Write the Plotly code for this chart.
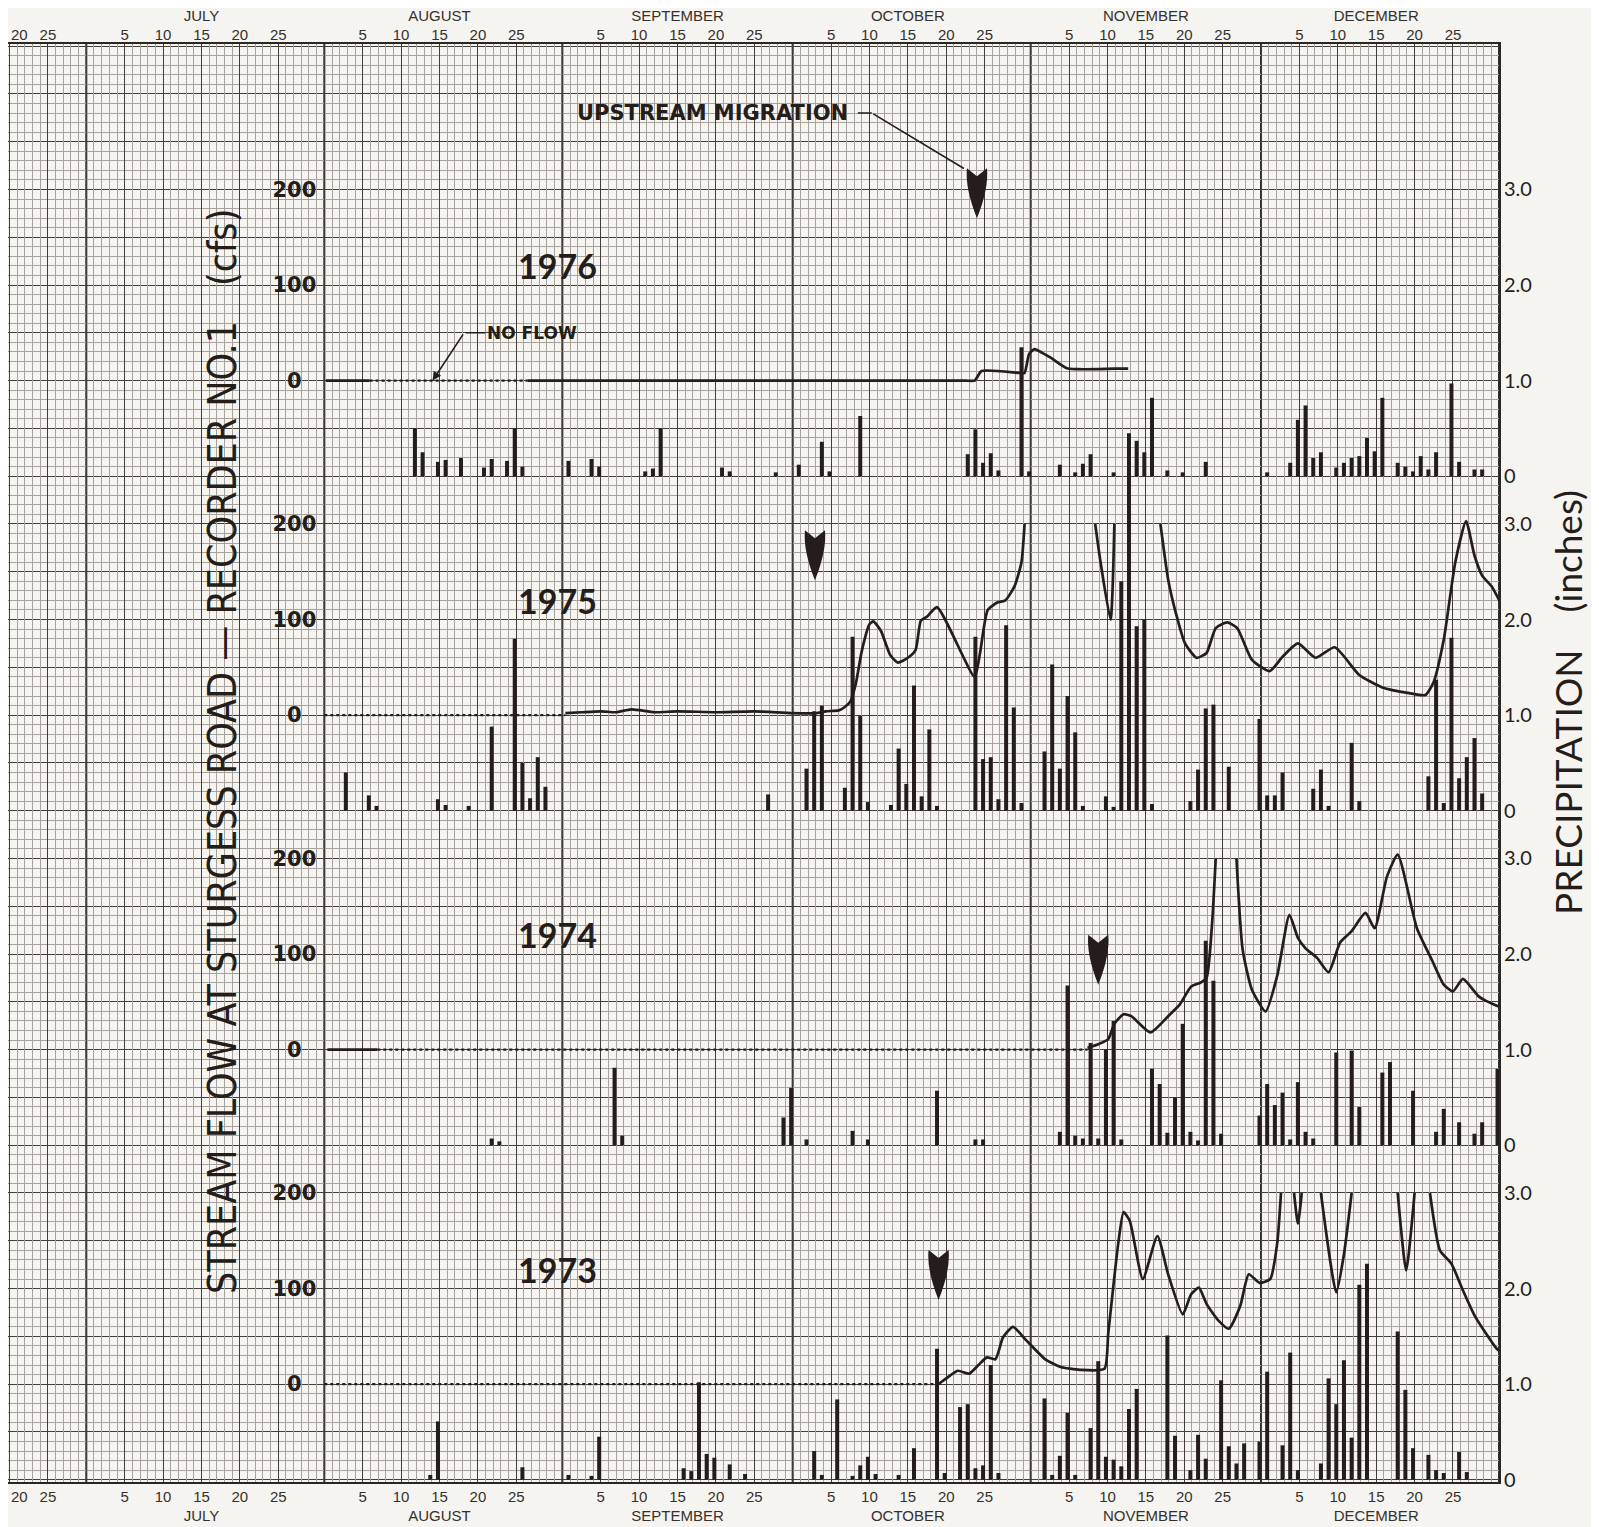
import plotly.graph_objects as go
from datetime import datetime, timedelta

YEAR = 2001  # nominal non-leap year: every season is laid on one Jun-Dec axis

# ------------------------------------------------------------------ data
years = ["1976", "1975", "1974", "1973"]

# daily precipitation (inches)
p1976_dates = ["08-12", "08-13", "08-15", "08-16", "08-18", "08-21", "08-22", "08-24", "08-25", "08-26",
               "09-01", "09-04", "09-05", "09-11", "09-12", "09-13", "09-21", "09-22", "09-28",
               "10-01", "10-04", "10-05", "10-09", "10-23", "10-24", "10-25", "10-26", "10-27", "10-30", "10-31",
               "11-04", "11-06", "11-07", "11-08", "11-11", "11-13", "11-14", "11-15", "11-16", "11-18", "11-20", "11-23",
               "12-01", "12-04", "12-05", "12-06", "12-07", "12-08", "12-10", "12-11", "12-12", "12-13", "12-14", "12-15",
               "12-16", "12-18", "12-19", "12-20", "12-21", "12-22", "12-23", "12-25", "12-26", "12-28", "12-29"]
p1976_in = [0.50, 0.25, 0.15, 0.17, 0.19, 0.09, 0.18, 0.16, 0.50, 0.10,
            0.16, 0.18, 0.10, 0.05, 0.08, 0.50, 0.09, 0.05, 0.04,
            0.12, 0.36, 0.05, 0.63, 0.23, 0.49, 0.14, 0.24, 0.06, 1.35, 0.05,
            0.12, 0.04, 0.13, 0.23, 0.04, 0.06, 0.37, 0.25, 0.82, 0.06, 0.04, 0.15,
            0.04, 0.14, 0.59, 0.74, 0.19, 0.25, 0.09, 0.14, 0.19, 0.21, 0.40, 0.26,
            0.82, 0.14, 0.10, 0.05, 0.21, 0.07, 0.25, 0.97, 0.15, 0.07, 0.07]

p1975_dates = ["08-03", "08-06", "08-07", "08-15", "08-16", "08-19", "08-22", "08-25", "08-26", "08-27", "08-28", "08-29",
               "09-27",
               "10-02", "10-03", "10-04", "10-07", "10-08", "10-09", "10-10", "10-13", "10-14", "10-15", "10-16",
               "10-17", "10-18", "10-19", "10-24", "10-25", "10-26", "10-27", "10-28", "10-29", "10-30",
               "11-02", "11-03", "11-04", "11-05", "11-06", "11-07", "11-10", "11-11", "11-12", "11-13",
               "11-14", "11-15", "11-16", "11-21", "11-22", "11-23", "11-24", "11-26", "11-30",
               "12-01", "12-02", "12-03", "12-07", "12-08", "12-09", "12-12", "12-13", "12-22", "12-23",
               "12-24", "12-25", "12-26", "12-27", "12-28", "12-29"]
p1975_in = [0.40, 0.16, 0.05, 0.12, 0.06, 0.05, 0.88, 1.80, 0.50, 0.13, 0.56, 0.25,
            0.17,
            0.44, 1.04, 1.10, 0.24, 1.82, 0.99, 0.09, 0.06, 0.65, 0.28, 1.31,
            0.15, 0.85, 0.05, 1.82, 0.54, 0.56, 0.12, 1.94, 1.08, 0.08,
            0.62, 1.53, 0.44, 1.20, 0.82, 0.05, 0.15, 0.04, 2.40, 3.95,
            1.93, 2.00, 0.07, 0.10, 0.43, 1.07, 1.11, 0.46, 0.96,
            0.16, 0.16, 0.40, 0.23, 0.43, 0.05, 0.71, 0.10, 0.36, 1.37,
            0.08, 1.81, 0.34, 0.56, 0.76, 0.18]

p1974_dates = ["08-22", "08-23",
               "09-07", "09-08", "09-29", "09-30",
               "10-02", "10-08", "10-10", "10-19", "10-24", "10-25",
               "11-04", "11-05", "11-06", "11-07", "11-08", "11-09", "11-10", "11-11", "11-12", "11-16",
               "11-17", "11-18", "11-19", "11-20", "11-21", "11-22", "11-23", "11-24", "11-25", "11-30",
               "12-01", "12-02", "12-03", "12-04", "12-05", "12-06", "12-07", "12-10", "12-12", "12-13",
               "12-16", "12-17", "12-20", "12-23", "12-24", "12-26", "12-28", "12-29", "12-31"]
p1974_in = [0.07, 0.04,
            0.81, 0.10, 0.29, 0.60,
            0.06, 0.15, 0.06, 0.57, 0.06, 0.06,
            0.14, 1.67, 0.10, 0.07, 1.07, 0.07, 1.00, 1.30, 0.06, 0.80,
            0.64, 0.13, 0.50, 1.27, 0.14, 0.05, 2.14, 1.72, 0.12, 0.31,
            0.64, 0.42, 0.55, 0.06, 0.66, 0.14, 0.07, 0.97, 0.99, 0.40,
            0.76, 0.87, 0.57, 0.14, 0.38, 0.24, 0.12, 0.24, 0.80]

p1973_dates = ["08-14", "08-15", "08-26",
               "09-01", "09-04", "09-05", "09-16", "09-17", "09-18", "09-19", "09-20", "09-22", "09-24",
               "10-03", "10-04", "10-06", "10-08", "10-09", "10-10", "10-11", "10-14", "10-16",
               "10-19", "10-20", "10-22", "10-23", "10-24", "10-25", "10-26", "10-27",
               "11-02", "11-03", "11-04", "11-05", "11-06", "11-08", "11-09", "11-10", "11-11", "11-12", "11-13",
               "11-14", "11-18", "11-19", "11-21", "11-22", "11-23", "11-25", "11-26", "11-27", "11-28", "11-30",
               "12-01", "12-03", "12-04", "12-05", "12-08", "12-09", "12-10", "12-11", "12-12", "12-13",
               "12-14", "12-18", "12-19", "12-20", "12-22", "12-23", "12-24", "12-26", "12-27"]
p1973_in = [0.05, 0.61, 0.13,
            0.05, 0.04, 0.45, 0.12, 0.09, 1.02, 0.27, 0.23, 0.16, 0.06,
            0.30, 0.05, 0.84, 0.04, 0.15, 0.24, 0.06, 0.05, 0.33,
            1.37, 0.07, 0.76, 0.79, 0.12, 0.15, 1.20, 0.07,
            0.85, 0.05, 0.25, 0.70, 0.05, 0.54, 1.24, 0.24, 0.21, 0.14, 0.74,
            0.95, 1.51, 0.46, 0.10, 0.47, 0.22, 1.04, 0.35, 0.17, 0.38, 0.40,
            1.13, 0.36, 1.33, 0.10, 0.17, 1.06, 0.79, 1.25, 0.44, 2.04,
            2.26, 1.55, 0.94, 0.33, 0.26, 0.10, 0.07, 0.29, 0.08]

# stream flow (cfs); "MM-DD.f" = day plus fraction of day, None = off scale / no record
f1976_dates = ["07-31.2", "08-05.9", None,
               "08-26.5", "09-15.0", "10-10.0", "10-22.5", "10-23.7", "10-24.6", "10-29.6", "10-30.2",
               "10-30.8", "10-31.5", "11-01.5", "11-02.6", "11-04.7", "11-06.0", "11-08.8", "11-10.9", "11-12.7"]
f1976_cfs = [0, 0, None,
             0, 0, 0, 0, 0, 10, 8, 8,
             28, 33, 29, 24, 13, 12, 12, 12.5, 12.5]

f1975_dates = ["08-31.4", "09-02.5", "09-05.0", "09-07.0", "09-09.0", "09-12.0", "09-15.0", "09-20.0",
               "09-25.0", "09-30.0", "10-03.0", "10-04.3", "10-06.0", "10-06.7", "10-07.5", "10-08.2",
               "10-09.0", "10-10.0", "10-10.5", "10-11.5", "10-12.7", "10-13.7", "10-15.0", "10-16.0",
               "10-16.7", "10-17.5", "10-18.8", "10-23.7", "10-24.4", "10-25.4", "10-26.7", "10-27.7",
               "10-28.9", "10-29.8", "10-30.2", None,
               "11-08.4", "11-09.1", "11-10.4", "11-10.9", None,
               "11-16.9", "11-17.9", "11-18.9", "11-20.1", "11-21.6", "11-22.9", "11-24.1", "11-25.6",
               "11-26.9", "11-28.8", "12-01.1", "12-02.8", "12-04.8", "12-07.1", "12-09.6", "12-12.8",
               "12-15.8", "12-19.3", "12-21.4", "12-22.5", "12-23.8", "12-25.3", "12-26.7", "12-27.8",
               "12-28.8", "12-30.0", "12-31.1"]
f1975_cfs = [2, 3, 4, 3, 6, 3, 4, 3,
             4, 2, 2, 4, 5, 8, 14, 32,
             67, 95, 98, 88, 63, 55, 60, 68,
             99, 103, 113, 40, 65, 110, 118, 120,
             135, 160, 200, None,
             200, 160, 100, 200, None,
             200, 142, 107, 75, 60, 65, 91, 97,
             91, 58, 46, 61, 75, 60, 71, 42,
             29, 23, 21, 35, 79, 160, 203, 167,
             146, 135, 119]

f1974_dates = ["07-31.4", "08-06.9", None,
               "11-07.4", "11-08.9", "11-10.1", "11-10.9", "11-12.1", "11-13.1", "11-15.6", "11-17.9",
               "11-19.4", "11-20.9", "11-22.1", "11-22.9", "11-23.6", "11-24.1", None,
               "11-26.8", "11-27.6", "11-28.8", "11-30.6", "12-02.1", "12-03.7", "12-04.8", "12-05.8",
               "12-07.3", "12-08.8", "12-10.3", "12-11.8", "12-13.6", "12-14.8", "12-16.4", "12-17.8",
               "12-20.3", "12-22.3", "12-23.8", "12-25.0", "12-26.3", "12-28.3", "12-29.3", "12-30.7",
               "12-31.0"]
f1974_cfs = [0, 0, None,
             2, 6, 11, 27, 37, 35, 18, 35,
             47, 66, 70, 75, 129, 200, None,
             200, 105, 63, 40, 77, 141, 117, 106,
             96, 81, 112, 124, 143, 127, 181, 204,
             127, 93, 68, 61, 74, 56, 51, 46,
             45]

f1973_dates = ["10-19.0", "10-20.0", "10-21.5", "10-23.0", "10-24.2", "10-25.3", "10-26.4", "10-27.4",
               "10-28.7", "10-30.4", "11-01.9", "11-03.9", "11-06.4", "11-09.6", "11-10.1", "11-11.4",
               "11-12.1", "11-12.9", "11-14.6", "11-16.5", "11-17.9", "11-19.8", "11-20.9", "11-21.9",
               "11-22.9", "11-24.4", "11-25.8", "11-27.3", "11-28.4", "11-29.8", "12-01.2", "12-02.1",
               "12-02.6", None,
               "12-04.3", "12-04.8", "12-05.3", None,
               "12-07.8", "12-09.8", "12-10.8", "12-11.8", None,
               "12-17.8", "12-18.9", "12-20.0", None,
               "12-22.0", "12-23.3", "12-24.8", "12-26.3", "12-27.8", "12-29.3", "12-30.7", "12-31.0"]
f1973_cfs = [0, 6, 14, 11, 20, 28, 26, 49,
             60, 46, 26, 18, 15, 16, 53, 147,
             180, 171, 110, 155, 115, 73, 94, 101,
             84, 67, 58, 82, 115, 106, 110, 147,
             200, None,
             200, 168, 200, None,
             200, 96, 136, 200, None,
             200, 119, 200, None,
             200, 140, 126, 98, 72, 53, 37, 35]

# periods marked "no flow" (dotted at 0 cfs)
noflow_1976 = [("08-05.9", "08-26.5")]
noflow_1975 = [("07-31.0", "08-31.4")]
noflow_1974 = [("08-06.9", "11-07.4")]
noflow_1973 = [("07-31.0", "10-19.0")]

# first upstream migration observed (date), one per season
migration_dates = ["10-24.0", "10-02.9", "11-08.8", "10-19.0"]

# axis labels
month_nums = [7, 8, 9, 10, 11, 12]
month_names = ["JULY", "AUGUST", "SEPTEMBER", "OCTOBER", "NOVEMBER", "DECEMBER"]
month_end_lines = ["06-30", "07-31", "08-31", "09-30", "10-31", "11-30", "12-31"]
label_days = [5, 10, 15, 20, 25]
june_days = [20, 25]
precip_ticks = [0, 1, 2, 3]
precip_labels = ["0", "1.0", "2.0", "3.0"]
flow_ticks = [0, 100, 200]
flow_labels = ["<b>0\u2007</b>", "<b>100</b>", "<b>200</b>"]

precip_dates = {"1976": p1976_dates, "1975": p1975_dates, "1974": p1974_dates, "1973": p1973_dates}
precip_in = {"1976": p1976_in, "1975": p1975_in, "1974": p1974_in, "1973": p1973_in}
flow_dates = {"1976": f1976_dates, "1975": f1975_dates, "1974": f1974_dates, "1973": f1973_dates}
flow_cfs = {"1976": f1976_cfs, "1975": f1975_cfs, "1974": f1974_cfs, "1973": f1973_cfs}
noflow = {"1976": noflow_1976, "1975": noflow_1975, "1974": noflow_1974, "1973": noflow_1973}
for y in years:
    assert len(precip_dates[y]) == len(precip_in[y]), y
    assert len(flow_dates[y]) == len(flow_cfs[y]), y

# ------------------------------------------------------------------ styling
PAGE_OFF = 8                      # the html body margin of the page
W, H = 1599 - PAGE_OFF, 1527 - PAGE_OFF
ML, MR, MT, MB = 0, 100, 36, 45
PW, PH = W - ML - MR, H - MT - MB
INK = "#241d1a"
PAPER = "#f5f4f0"
FINE = "#a7a29b"
MEDIUM = "#423d39"
MONTHC = "#2a2623"
TEXTC = "#35302c"
TICKF = "Liberation Sans, Arial, sans-serif"
DAY_MS = 86400000

G_MIN, G_MAX = -0.024, 15.022          # whole sheet in "inches of paper"
PANEL_OFFSET = [10.5, 7.0, 3.5, 0.0]   # where each season's precipitation zero sits
FLOW_ZERO_IN = 1.0                     # 0 cfs drawn at 1.0 inch, 100 cfs per inch
YEAR_LABEL_POS = ("08-30.4", 2.2)
ARROW_LEVEL = [2.70, 2.41, 1.68, 1.88]


def iso(s):
    if s is None:
        return None
    mm, rest = s.split("-")
    day = float(rest)
    d = int(day)
    t = datetime(YEAR, int(mm), d) + timedelta(days=day - d)
    return t.strftime("%Y-%m-%d %H:%M:%S")


def pgx(x):  # page pixel -> paper fraction
    return (x - PAGE_OFF - ML) / PW


def pgy(y):
    return (H - MB - (y - PAGE_OFF)) / PH


PX_PER_DAY = 7.678
JUN30_PAGE_X = 86.3
start_days = (JUN30_PAGE_X - PAGE_OFF - ML) / PX_PER_DAY
x0 = datetime(YEAR, 6, 30) - timedelta(days=start_days)
x1 = x0 + timedelta(days=PW / PX_PER_DAY)
X_START = x0.strftime("%Y-%m-%d %H:%M:%S")
X_END = x1.strftime("%Y-%m-%d %H:%M:%S")
flow_axis_pos = (datetime(YEAR, 7, 31) - x0) / (x1 - x0)

# the first June label sits on the sheet edge: it is written as text inside the sheet
edge_label = str(june_days[0])
tickvals, bottom_text, top_text = [], [], []
for d in june_days[1:]:
    tickvals.append(iso(f"06-{d:02d}"))
    bottom_text.append(str(d))
    top_text.append(str(d))
for m, name in zip(month_nums, month_names):
    for d in label_days:
        tickvals.append(iso(f"{m:02d}-{d:02d}"))
        if d == 15:
            bottom_text.append(f"{d}<br>{name}")
            top_text.append(f"{name}<br>{d}")
        else:
            bottom_text.append(str(d))
            top_text.append(str(d))
grid_vals = [iso(f"06-{june_days[0]:02d}")] + tickvals + [iso(m) for m in month_end_lines]
grid_text = [""] + top_text + [""] * len(month_end_lines)

# daily fine lines of the graph paper (all days not already drawn heavier)
fine_vals = []
day = datetime(YEAR, 6, 20)
heavy = set(grid_vals)
while day <= x1:
    s = day.strftime("%Y-%m-%d %H:%M:%S")
    if s not in heavy:
        fine_vals.append(s)
    day += timedelta(days=1)

fig = go.Figure()

# empty carrier so that x/y is the main subplot (grid and background live there)
fig.add_trace(go.Scatter(x=[X_START], y=[None], xaxis="x", yaxis="y", mode="lines",
                         showlegend=False, hoverinfo="skip"))

# precipitation bars
for i, yr in enumerate(years):
    fig.add_trace(go.Bar(
        x=[iso(d) for d in precip_dates[yr]], y=precip_in[yr],
        width=0.52 * DAY_MS, offset=-0.46 * DAY_MS,
        marker=dict(color=INK, line=dict(width=0)),
        xaxis="x", yaxis=f"y{2 + i}", showlegend=False))

# stream flow
for i, yr in enumerate(years):
    for a, b in noflow[yr]:
        fig.add_trace(go.Scatter(
            x=[iso(a), iso(b)], y=[0, 0], mode="lines",
            line=dict(color=INK, width=2.2, dash="dot"),
            xaxis="x", yaxis=f"y{6 + i}", showlegend=False, hoverinfo="skip"))
    fig.add_trace(go.Scatter(
        x=[iso(d) for d in flow_dates[yr]], y=flow_cfs[yr], mode="lines",
        line=dict(color=INK, width=2.7, shape="spline", smoothing=0.55), connectgaps=False,
        xaxis="x", yaxis=f"y{6 + i}", showlegend=False))

# carriers for the extra date axes (daily grid, top labels)
fig.add_trace(go.Scatter(x=[X_START], y=[None], xaxis="x2", yaxis="y", mode="lines",
                         showlegend=False, hoverinfo="skip"))
fig.add_trace(go.Scatter(x=[X_START], y=[None], xaxis="x3", yaxis="y", mode="lines",
                         showlegend=False, hoverinfo="skip"))

layout = dict(
    width=W, height=H, margin=dict(l=ML, r=MR, t=MT, b=MB, autoexpand=False),
    paper_bgcolor=PAPER, plot_bgcolor=PAPER, showlegend=False, barmode="overlay",
    xaxis=dict(type="date", range=[X_START, X_END], tickmode="array", tickvals=tickvals,
               ticktext=bottom_text, ticks="", tickangle=0, showgrid=False,
               zeroline=False, showline=True, linecolor=MONTHC, linewidth=1.6,
               mirror=True, tickfont=dict(family=TICKF, size=15, color=TEXTC)),
    # daily fine grid
    xaxis2=dict(type="date", overlaying="x", anchor="y", range=[X_START, X_END],
                tickmode="array", tickvals=fine_vals, showticklabels=False,
                ticks="", showgrid=True, gridcolor=FINE, gridwidth=0.7, zeroline=False),
    # five-day grid + top labels
    xaxis3=dict(type="date", overlaying="x", side="top", anchor="y", range=[X_START, X_END],
                tickmode="array", tickvals=grid_vals, ticktext=grid_text, ticks="", tickangle=0,
                showgrid=True, gridcolor=MEDIUM, gridwidth=1.2, zeroline=False,
                tickfont=dict(family=TICKF, size=15, color=TEXTC)),
    yaxis=dict(range=[G_MIN, G_MAX], tick0=0, dtick=0.5, showticklabels=False, ticks="",
               showgrid=True, gridcolor=MEDIUM, gridwidth=1.2, zeroline=False,
               showline=True, linecolor=MONTHC, linewidth=1.6, mirror=True,
               minor=dict(dtick=0.1, tick0=0, showgrid=True, gridcolor=FINE, gridwidth=0.7)),
)
for i, yr in enumerate(years):
    o = PANEL_OFFSET[i]
    layout[f"yaxis{2 + i}"] = dict(
        overlaying="y", side="right", anchor="x", range=[G_MIN - o, G_MAX - o],
        tickmode="array", tickvals=precip_ticks, ticktext=precip_labels, ticks="",
        showgrid=False, zeroline=False, showline=False, ticklabelstandoff=4,
        tickfont=dict(family="Lato, sans-serif", size=20, color=INK))
    layout[f"yaxis{6 + i}"] = dict(
        overlaying="y", anchor="free", position=flow_axis_pos, side="left",
        range=[(G_MIN - o - FLOW_ZERO_IN) * 100, (G_MAX - o - FLOW_ZERO_IN) * 100],
        tickmode="array", tickvals=flow_ticks, ticktext=flow_labels, ticks="",
        showgrid=False, zeroline=False, showline=False, ticklabelstandoff=8,
        tickfont=dict(family="DejaVu Sans, sans-serif", size=21, color=INK))

shapes = []
for m in month_end_lines:
    shapes.append(dict(type="line", xref="x", yref="paper", x0=iso(m), x1=iso(m), y0=0, y1=1,
                       line=dict(color=MONTHC, width=2.0), layer="below"))
for i, d in enumerate(migration_dates):
    shapes.append(dict(type="path", xref="x", yref=f"y{2 + i}", xsizemode="pixel",
                       ysizemode="pixel", xanchor=iso(d), yanchor=ARROW_LEVEL[i],
                       path="M0,0 Q-12,30 -10,50 L0,42 L10,50 Q12,30 0,0 Z",
                       fillcolor=INK, line=dict(width=0), layer="above"))
layout["shapes"] = shapes

ann = []
for ypage in (34.7, 1496.0):
    ann.append(dict(x=0.0, y=pgy(ypage), xref="paper", yref="paper", text=edge_label,
                    showarrow=False, xanchor="left", yanchor="middle", xshift=1,
                    font=dict(family=TICKF, size=15, color=TEXTC)))
for i, yr in enumerate(years):
    ann.append(dict(x=iso(YEAR_LABEL_POS[0]), y=YEAR_LABEL_POS[1], xref="x", yref=f"y{2 + i}",
                    text=f"<b>{yr}</b>", showarrow=False, xanchor="center", yanchor="middle",
                    font=dict(family="Lato, sans-serif", size=34, color=INK)))


def leader(t0, y0, t1, y1, yref, head=0):
    return dict(x=iso(t1), y=y1, ax=iso(t0), ay=y0, xref="x", yref=yref, axref="x", ayref=yref,
                text="", showarrow=True, arrowhead=head, arrowsize=1.1, arrowwidth=1.6,
                arrowcolor=INK, standoff=0, startstandoff=0)


ann.append(dict(x=iso("09-19.6"), y=3.80, xref="x", yref="y2", text="<b>UPSTREAM MIGRATION</b>",
                showarrow=False, xanchor="center", yanchor="middle",
                font=dict(family="DejaVu Sans, sans-serif", size=21, color=INK)))
ann.append(leader("10-08.3", 3.80, "10-10.3", 3.80, "y2"))
ann.append(leader("10-10.3", 3.80, "10-22.3", 3.22, "y2"))
ann.append(dict(x=iso("08-27.0"), y=1.50, xref="x", yref="y2", text="<b>NO FLOW</b>",
                showarrow=False, xanchor="center", yanchor="middle",
                font=dict(family="DejaVu Sans, sans-serif", size=17, color=INK)))
ann.append(leader("08-18.2", 1.50, "08-21.0", 1.50, "y2"))
ann.append(leader("08-18.2", 1.50, "08-14.1", 1.00, "y2", head=2))

ann.append(dict(x=pgx(222), y=pgy(752), xref="paper", yref="paper", textangle=-90,
                showarrow=False, xanchor="center", yanchor="middle",
                text="STREAM FLOW AT STURGESS ROAD \u2014 RECORDER NO.1\u2002\u2002(cfs)",
                font=dict(family="Liberation Sans Narrow, DejaVu Sans Condensed, Roboto Condensed, sans-serif",
                          size=39, color=INK)))
ann.append(dict(x=pgx(1567), y=pgy(703), xref="paper", yref="paper", textangle=-90,
                showarrow=False, xanchor="center", yanchor="middle",
                text="PRECIPITATION\u2002\u2002(inches)",
                font=dict(family="Lato, sans-serif", size=37, color=INK)))
layout["annotations"] = ann

fig.update_layout(layout)
fig.write_html("out.html")
